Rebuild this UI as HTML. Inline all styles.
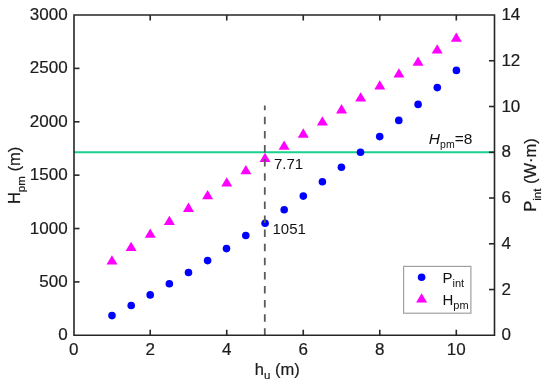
<!DOCTYPE html>
<html><head><meta charset="utf-8"><style>
html,body{margin:0;padding:0;background:#fff;width:550px;height:385px;overflow:hidden}
svg{display:block;will-change:transform}
</style></head><body>
<svg width="550" height="385" viewBox="0 0 550 385">
<rect width="550" height="385" fill="#fff"/>
<line x1="74.0" y1="152.25" x2="494.5" y2="152.25" stroke="#19d18f" stroke-width="1.8"/>
<g fill="#0000ff">
<circle cx="112.00" cy="315.60" r="3.8"/>
<circle cx="131.20" cy="305.50" r="3.8"/>
<circle cx="150.20" cy="294.90" r="3.8"/>
<circle cx="169.35" cy="283.70" r="3.8"/>
<circle cx="188.50" cy="272.50" r="3.8"/>
<circle cx="207.60" cy="260.60" r="3.8"/>
<circle cx="226.50" cy="248.60" r="3.8"/>
<circle cx="245.80" cy="235.50" r="3.8"/>
<circle cx="265.10" cy="223.20" r="3.8"/>
<circle cx="284.20" cy="209.80" r="3.8"/>
<circle cx="303.30" cy="196.10" r="3.8"/>
<circle cx="322.40" cy="181.80" r="3.8"/>
<circle cx="341.40" cy="167.30" r="3.8"/>
<circle cx="360.50" cy="152.20" r="3.8"/>
<circle cx="379.70" cy="136.60" r="3.8"/>
<circle cx="398.80" cy="120.40" r="3.8"/>
<circle cx="418.10" cy="104.40" r="3.8"/>
<circle cx="437.30" cy="87.60" r="3.8"/>
<circle cx="456.40" cy="70.40" r="3.8"/>
</g>
<g fill="#ff00ff">
<path d="M111.96 255.20L117.46 264.50L106.46 264.50Z"/>
<path d="M131.09 241.75L136.59 251.05L125.59 251.05Z"/>
<path d="M150.22 228.55L155.72 237.85L144.72 237.85Z"/>
<path d="M169.35 215.65L174.85 224.95L163.85 224.95Z"/>
<path d="M188.48 202.60L193.98 211.90L182.98 211.90Z"/>
<path d="M207.61 189.95L213.11 199.25L202.11 199.25Z"/>
<path d="M226.74 177.30L232.24 186.60L221.24 186.60Z"/>
<path d="M245.87 164.95L251.37 174.25L240.37 174.25Z"/>
<path d="M265.00 152.70L270.50 162.00L259.50 162.00Z"/>
<path d="M284.13 140.50L289.63 149.80L278.63 149.80Z"/>
<path d="M303.26 128.35L308.76 137.65L297.76 137.65Z"/>
<path d="M322.39 116.30L327.89 125.60L316.89 125.60Z"/>
<path d="M341.52 104.10L347.02 113.40L336.02 113.40Z"/>
<path d="M360.65 92.30L366.15 101.60L355.15 101.60Z"/>
<path d="M379.78 80.15L385.28 89.45L374.28 89.45Z"/>
<path d="M398.91 68.20L404.41 77.50L393.41 77.50Z"/>
<path d="M418.04 56.40L423.54 65.70L412.54 65.70Z"/>
<path d="M437.17 44.25L442.67 53.55L431.67 53.55Z"/>
<path d="M456.30 32.50L461.80 41.80L450.80 41.80Z"/>
</g>
<line x1="264.8" y1="335.8" x2="264.8" y2="105.5" stroke="#5a5a5a" stroke-width="1.8" stroke-dasharray="7.5 6.6"/>
<g stroke="#262626" stroke-width="1.6" fill="none">
<path d="M74.0 15.0H494.5V335.3H74.0Z"/>
<path d="M150.22 335.3v-5.5M150.22 15.0v5.5"/>
<path d="M226.74 335.3v-5.5M226.74 15.0v5.5"/>
<path d="M303.26 335.3v-5.5M303.26 15.0v5.5"/>
<path d="M379.78 335.3v-5.5M379.78 15.0v5.5"/>
<path d="M456.30 335.3v-5.5M456.30 15.0v5.5"/>
<path d="M74.0 281.92h5.5"/>
<path d="M74.0 228.53h5.5"/>
<path d="M74.0 175.15h5.5"/>
<path d="M74.0 121.77h5.5"/>
<path d="M74.0 68.38h5.5"/>
<path d="M494.5 289.54h-5.5"/>
<path d="M494.5 243.79h-5.5"/>
<path d="M494.5 198.03h-5.5"/>
<path d="M494.5 152.27h-5.5"/>
<path d="M494.5 106.51h-5.5"/>
<path d="M494.5 60.76h-5.5"/>
</g>
<g font-family='"Liberation Sans", sans-serif' font-size="17" fill="#1c1c1c" stroke="#1c1c1c" stroke-width="0.2">
<text x="73.70" y="354.6" text-anchor="middle">0</text>
<text x="150.22" y="354.6" text-anchor="middle">2</text>
<text x="226.74" y="354.6" text-anchor="middle">4</text>
<text x="303.26" y="354.6" text-anchor="middle">6</text>
<text x="379.78" y="354.6" text-anchor="middle">8</text>
<text x="456.30" y="354.6" text-anchor="middle">10</text>
<text x="67.6" y="340.30" text-anchor="end">0</text>
<text x="67.6" y="286.92" text-anchor="end">500</text>
<text x="67.6" y="233.53" text-anchor="end">1000</text>
<text x="67.6" y="180.15" text-anchor="end">1500</text>
<text x="67.6" y="126.77" text-anchor="end">2000</text>
<text x="67.6" y="73.38" text-anchor="end">2500</text>
<text x="67.6" y="20.00" text-anchor="end">3000</text>
<text x="501.4" y="340.30">0</text>
<text x="501.4" y="294.54">2</text>
<text x="501.4" y="248.79">4</text>
<text x="501.4" y="203.03">6</text>
<text x="501.4" y="157.27">8</text>
<text x="501.4" y="111.51">10</text>
<text x="501.4" y="65.76">12</text>
<text x="501.4" y="20.00">14</text>
</g>
<g font-family='"Liberation Sans", sans-serif' fill="#1c1c1c" stroke="#1c1c1c" stroke-width="0.2">
<text x="254.8" y="374.6" font-size="16.5">h<tspan font-size="11.5" dy="4.8">u</tspan><tspan dy="-4.8"> (m)</tspan></text>
<text transform="translate(19.8 204.1) rotate(-90)" font-size="16.5">H<tspan font-size="11.5" dy="4.8">pm</tspan><tspan dy="-4.8"> (m)</tspan></text>
<text transform="translate(535.6 211.7) rotate(-90)" font-size="16.5">P<tspan font-size="11.5" dy="5">int</tspan><tspan dy="-5"> (W·m)</tspan></text>
</g>
<g font-family='"Liberation Sans", sans-serif' fill="#111" font-size="15">
<text x="274" y="169.1">7.71</text>
<text x="272.5" y="234">1051</text>
<text x="428.7" y="143.7" font-size="15.5"><tspan font-style="italic">H</tspan><tspan font-size="10.5" dx="0.2" dy="4.3">pm</tspan><tspan dy="-4.3">=8</tspan></text>
</g>
<rect x="403.6" y="266.4" width="67.3" height="46.8" fill="#fff" stroke="#a0a0a0" stroke-width="1.2"/>
<circle cx="421.6" cy="277.3" r="3.8" fill="#0000ff"/>
<g fill="#ff00ff"><path d="M421.60 293.30L427.10 302.60L416.10 302.60Z"/></g>
<g font-family='"Liberation Sans", sans-serif' fill="#111" font-size="15">
<text x="442.5" y="282.5">P<tspan font-size="11" dy="4.7">int</tspan></text>
<text x="442.5" y="304.7">H<tspan font-size="11" dy="4.7">pm</tspan></text>
</g>
</svg>
</body></html>
